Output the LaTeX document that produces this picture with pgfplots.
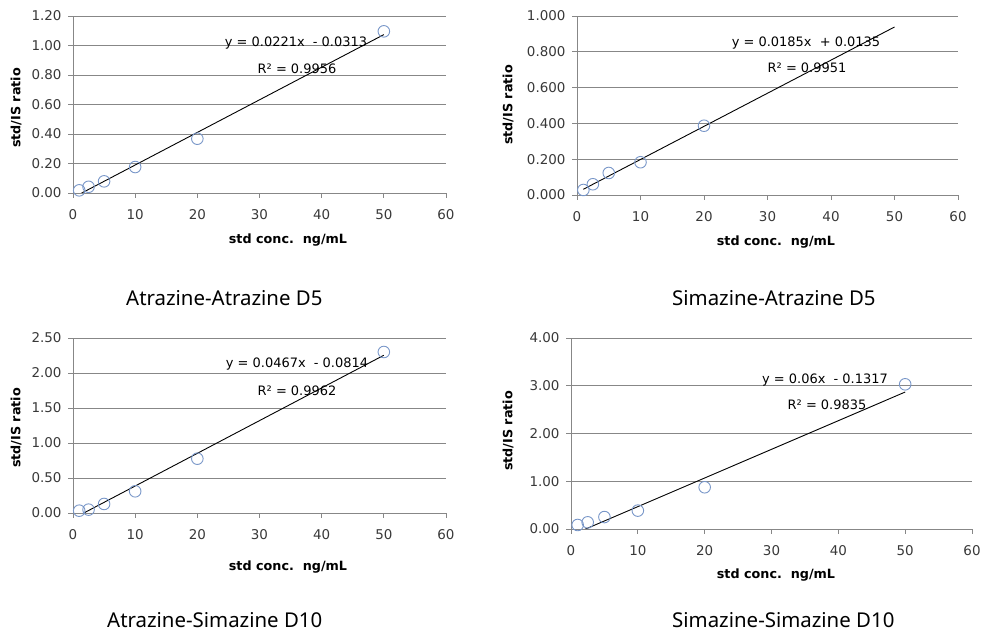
\documentclass[border=0pt]{standalone}
\usepackage{fontspec}
\setmainfont{DejaVu Sans}
\newfontfamily\capfont{Noto Sans}
\usepackage{pgfplots}
\pgfplotsset{compat=1.18}

\definecolor{mk}{RGB}{120,150,200}
\definecolor{gridc}{RGB}{135,135,135}

\pgfplotsset{
 cal/.style={
  scale only axis,
  anchor=south west,
  axis x line*=bottom, axis y line*=left,
  xmin=0, xmax=60, xtick={0,10,20,30,40,50,60},
  ymin=0, ymajorgrids,
  grid style={gridc, line width=0.9bp},
  axis line style={-, gridc, line width=0.9bp},
  tick style={gridc, line width=0.9bp},
  tick align=outside, major tick length=5bp,
  tick label style={font=\fontsize{13.5}{15}\selectfont, text=black!78},
  xticklabel style={yshift=-8bp},
  yticklabel style={xshift=-3bp, /pgf/number format/fixed, /pgf/number format/zerofill},
  /pgf/number format/assume math mode=true,
  clip marker paths=false,
 },
 dat/.style={only marks, mark=o, mark size=5.8bp, mark options={draw=mk, line width=0.9bp}},
 trend/.style={black, line width=0.9bp, no marks},
}
\newcommand{\eqf}{\fontsize{13}{15}\selectfont}
\newcommand{\labf}{\fontsize{12.8}{14}\selectfont\bfseries}
\newcommand{\capf}{\capfont\fontsize{20.5}{22}\selectfont}

\begin{document}
\begin{tikzpicture}
\path[use as bounding box] (0,0) rectangle (982bp,633bp);

% Panel 1: Atrazine-Atrazine D5
\begin{axis}[cal, at={(73bp,440bp)}, width=373bp, height=177bp,
  ymax=1.2, ytick={0,0.2,0.4,0.6,0.8,1.0,1.2},
  yticklabel style={/pgf/number format/precision=2}]
\addplot[dat] coordinates {(1,0.018) (2.5,0.042) (5,0.079) (10,0.176) (20,0.368) (50,1.096)};
\addplot[trend] coordinates {(1,-0.0092) (50,1.0737)};
\end{axis}

% Panel 2: Simazine-Atrazine D5
\begin{axis}[cal, at={(577bp,438bp)}, width=381bp, height=179bp,
  ymax=1.0, ytick={0,0.2,0.4,0.6,0.8,1.0},
  yticklabel style={/pgf/number format/precision=3}]
\addplot[dat] coordinates {(1,0.028) (2.5,0.060) (5,0.123) (10,0.183) (20,0.387)};
\addplot[trend] coordinates {(1,0.032) (50,0.9385)};
\end{axis}

% Panel 3: Atrazine-Simazine D10
\begin{axis}[cal, at={(73bp,120bp)}, width=373bp, height=175bp,
  ymax=2.5, ytick={0,0.5,1.0,1.5,2.0,2.5},
  yticklabel style={/pgf/number format/precision=2}]
\addplot[dat] coordinates {(1,0.033) (2.5,0.048) (5,0.129) (10,0.31) (20,0.776) (50,2.30)};
\addplot[trend] coordinates {(1,-0.0347) (50,2.2536)};
\end{axis}

% Panel 4: Simazine-Simazine D10
\begin{axis}[cal, at={(571bp,104bp)}, width=401bp, height=191bp,
  ymax=4.0, ytick={0,1,2,3,4},
  yticklabel style={/pgf/number format/precision=2}]
\addplot[dat] coordinates {(1,0.084) (2.5,0.14) (5,0.25) (10,0.385) (20,0.874) (50,3.03)};
\addplot[trend] coordinates {(1,-0.0717) (50,2.8683)};
\end{axis}

% equations
\node[font=\eqf] at (296bp,590bp) {y = 0.0221x\ \ - 0.0313};
\node[font=\eqf] at (297bp,564bp) {R² = 0.9956};
\node[font=\eqf] at (806bp,590bp) {y = 0.0185x\ \ + 0.0135};
\node[font=\eqf] at (807bp,565bp) {R² = 0.9951};
\node[font=\eqf] at (297bp,269bp) {y = 0.0467x\ \ - 0.0814};
\node[font=\eqf] at (297bp,242bp) {R² = 0.9962};
\node[font=\eqf] at (825bp,253bp) {y = 0.06x\ \ - 0.1317};
\node[font=\eqf] at (827bp,228bp) {R² = 0.9835};

% axis labels
\node[font=\labf] at (288bp,393bp) {std conc.\ \ ng/mL};
\node[font=\labf] at (776bp,391bp) {std conc.\ \ ng/mL};
\node[font=\labf] at (288bp,66bp) {std conc.\ \ ng/mL};
\node[font=\labf] at (776bp,58bp) {std conc.\ \ ng/mL};
\node[font=\labf, rotate=90] at (16bp,525bp) {std/IS ratio};
\node[font=\labf, rotate=90] at (508bp,528bp) {std/IS ratio};
\node[font=\labf, rotate=90] at (16bp,205bp) {std/IS ratio};
\node[font=\labf, rotate=90] at (508bp,202bp) {std/IS ratio};

% captions
\node[font=\capf, anchor=base west, inner sep=0pt] at (126bp,327bp) {Atrazine-Atrazine D5};
\node[font=\capf, anchor=base west, inner sep=0pt] at (672bp,327bp) {Simazine-Atrazine D5};
\node[font=\capf, anchor=base west, inner sep=0pt] at (107bp,6bp) {Atrazine-Simazine D10};
\node[font=\capf, anchor=base west, inner sep=0pt] at (672bp,6bp) {Simazine-Simazine D10};
\end{tikzpicture}
\end{document}
